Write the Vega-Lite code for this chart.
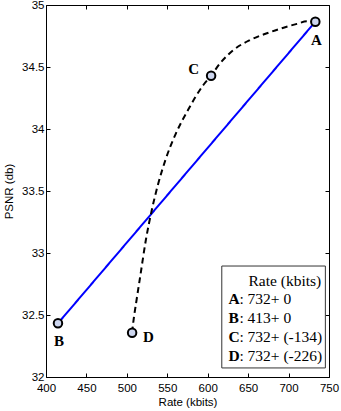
{
  "$schema": "https://vega.github.io/schema/vega-lite/v6.json",
  "width": 283,
  "height": 372,
  "autosize": {"type": "none"},
  "padding": {"left": 46, "top": 5, "right": 12, "bottom": 34},
  "background": "white",
  "config": {
    "view": {"stroke": "#000000", "strokeWidth": 1},
    "axis": {
      "grid": false,
      "domain": false,
      "tickColor": "#000000",
      "tickSize": -4,
      "labelFlush": false,
      "labelFont": "Liberation Sans",
      "labelFontSize": 11.5,
      "labelColor": "#000000",
      "titleFont": "Liberation Sans",
      "titleFontSize": 11.5,
      "titleFontWeight": "normal",
      "titleColor": "#000000"
    }
  },
  "datasets": {
    "lines": [
      {"series": "direct", "rate": 414.8, "psnr": 32.433},
      {"series": "direct", "rate": 733.1, "psnr": 34.865},
      {"series": "path", "rate": 506.5, "psnr": 32.357},
      {"series": "path", "rate": 507.8, "psnr": 32.433},
      {"series": "path", "rate": 512.0, "psnr": 32.621},
      {"series": "path", "rate": 517.1, "psnr": 32.836},
      {"series": "path", "rate": 523.5, "psnr": 33.105},
      {"series": "path", "rate": 530.4, "psnr": 33.333},
      {"series": "path", "rate": 537.8, "psnr": 33.535},
      {"series": "path", "rate": 547.7, "psnr": 33.75},
      {"series": "path", "rate": 560.7, "psnr": 33.965},
      {"series": "path", "rate": 575.6, "psnr": 34.153},
      {"series": "path", "rate": 594.6, "psnr": 34.355},
      {"series": "path", "rate": 604.2, "psnr": 34.43},
      {"series": "path", "rate": 615.3, "psnr": 34.53},
      {"series": "path", "rate": 631.8, "psnr": 34.637},
      {"series": "path", "rate": 652.5, "psnr": 34.718},
      {"series": "path", "rate": 673.2, "psnr": 34.772},
      {"series": "path", "rate": 693.8, "psnr": 34.817},
      {"series": "path", "rate": 710.4, "psnr": 34.848},
      {"series": "path", "rate": 722.8, "psnr": 34.868},
      {"series": "path", "rate": 733.1, "psnr": 34.865}
    ],
    "points": [
      {"id": "A", "rate": 733.1, "psnr": 34.865, "note": ": 732+ 0"},
      {"id": "B", "rate": 414.8, "psnr": 32.433, "note": ": 413+ 0"},
      {"id": "C", "rate": 604.2, "psnr": 34.43, "note": ": 732+ (-134)"},
      {"id": "D", "rate": 506.5, "psnr": 32.357, "note": ": 732+ (-226)"}
    ]
  },
  "layer": [
    {
      "layer": [
        {
          "data": {"name": "lines"},
          "mark": {"type": "line", "strokeWidth": 2, "interpolate": "monotone"},
          "encoding": {
            "x": {"field": "rate", "type": "quantitative", "scale": {"domain": [400, 750], "nice": false, "zero": false},
                  "axis": {"orient": "bottom", "title": "Rate (kbits)", "values": [400, 450, 500, 550, 600, 650, 700, 750], "format": "d", "labelPadding": 9, "titlePadding": 3}},
            "y": {"field": "psnr", "type": "quantitative", "scale": {"domain": [32, 35], "nice": false, "zero": false},
                  "axis": {"orient": "left", "title": "PSNR (db)", "values": [32, 32.5, 33, 33.5, 34, 34.5, 35], "format": "~g", "labelPadding": 6, "titlePadding": 7}},
            "color": {"field": "series", "type": "nominal", "scale": {"domain": ["direct", "path"], "range": ["#0000ff", "#000000"]}, "legend": null},
            "strokeDash": {"field": "series", "type": "nominal", "scale": {"domain": ["direct", "path"], "range": [[1, 0], [6, 4]]}, "legend": null}
          }
        },
        {
          "data": {"name": "points"},
          "mark": {"type": "point", "shape": "circle", "filled": true, "fill": "#cdd6ef", "stroke": "#000000", "strokeWidth": 2, "size": 72, "opacity": 1},
          "encoding": {
            "x": {"field": "rate", "type": "quantitative", "axis": {"orient": "top", "labels": false, "title": null, "values": [400, 450, 500, 550, 600, 650, 700, 750]}},
            "y": {"field": "psnr", "type": "quantitative", "axis": {"orient": "right", "labels": false, "title": null, "values": [32, 32.5, 33, 33.5, 34, 34.5, 35]}}
          }
        },
        {
          "data": {"name": "points"},
          "transform": [{"filter": {"field": "id", "oneOf": ["A", "B"]}}],
          "mark": {"type": "text", "font": "Liberation Serif", "fontWeight": "bold", "fontSize": 15, "align": "center", "baseline": "middle", "dy": 18, "dx": 1, "color": "#000000"},
          "encoding": {
            "x": {"field": "rate", "type": "quantitative", "axis": null},
            "y": {"field": "psnr", "type": "quantitative", "axis": null},
            "text": {"field": "id"}
          }
        },
        {
          "data": {"name": "points"},
          "transform": [{"filter": {"field": "id", "equal": "C"}}],
          "mark": {"type": "text", "font": "Liberation Serif", "fontWeight": "bold", "fontSize": 15, "align": "right", "baseline": "middle", "dx": -12, "dy": -7, "color": "#000000"},
          "encoding": {
            "x": {"field": "rate", "type": "quantitative", "axis": null},
            "y": {"field": "psnr", "type": "quantitative", "axis": null},
            "text": {"field": "id"}
          }
        },
        {
          "data": {"name": "points"},
          "transform": [{"filter": {"field": "id", "equal": "D"}}],
          "mark": {"type": "text", "font": "Liberation Serif", "fontWeight": "bold", "fontSize": 15, "align": "left", "baseline": "middle", "dx": 11, "dy": 4, "color": "#000000"},
          "encoding": {
            "x": {"field": "rate", "type": "quantitative", "axis": null},
            "y": {"field": "psnr", "type": "quantitative", "axis": null},
            "text": {"field": "id"}
          }
        },
        {
          "data": {"values": [{}]},
          "mark": {"type": "rect", "fill": "#ffffff", "stroke": "#333333", "strokeWidth": 1},
          "encoding": {
            "x": {"datum": 617.4, "type": "quantitative", "axis": null},
            "x2": {"datum": 745.5},
            "y": {"datum": 32.895, "type": "quantitative", "axis": null},
            "y2": {"datum": 32.073}
          }
        },
        {
          "data": {"values": [{}]},
          "mark": {"type": "text", "font": "Liberation Serif", "fontSize": 15.5, "align": "left", "baseline": "alphabetic", "color": "#000000", "text": "Rate (kbits)"},
          "encoding": {
            "x": {"datum": 650.4, "type": "quantitative", "axis": null},
            "y": {"datum": 32.734, "type": "quantitative", "axis": null}
          }
        }
      ]
    },
    {
      "data": {"name": "points"},
      "layer": [
        {
          "mark": {"type": "text", "font": "Liberation Serif", "fontWeight": "bold", "fontSize": 15.5, "align": "left", "baseline": "alphabetic", "color": "#000000"},
          "encoding": {
            "x": {"datum": 625.6, "type": "quantitative", "axis": null},
            "y": {"field": "id", "type": "ordinal", "scale": {"type": "point", "domain": ["A", "B", "C", "D"], "range": [299, 356], "padding": 0}, "axis": null},
            "text": {"field": "id"}
          }
        },
        {
          "mark": {"type": "text", "font": "Liberation Serif", "fontSize": 15.5, "align": "left", "baseline": "alphabetic", "dx": 11, "color": "#000000"},
          "encoding": {
            "x": {"datum": 625.6, "type": "quantitative", "axis": null},
            "y": {"field": "id", "type": "ordinal", "axis": null},
            "text": {"field": "note"}
          }
        }
      ]
    }
  ],
  "resolve": {"scale": {"y": "independent"}}
}
